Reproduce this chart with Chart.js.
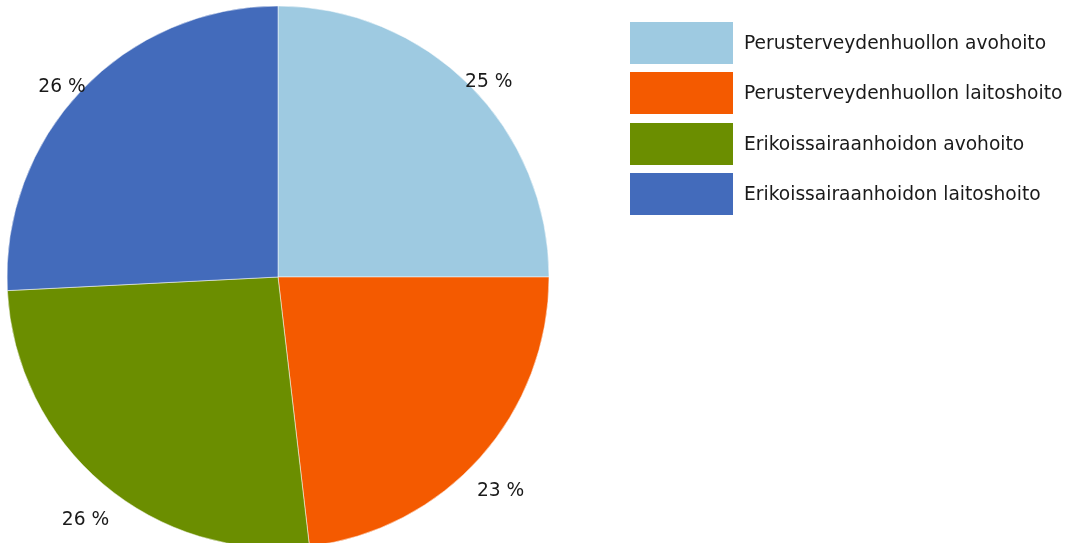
<!DOCTYPE html>
<html>
<head>
<meta charset="utf-8">
<script src="https://cdn.jsdelivr.net/npm/chart.js@4/dist/chart.umd.min.js"></script>
<style>
  html, body { margin: 0; padding: 0; background: #fff; overflow: hidden; width: 1076px; height: 543px; }
  #wrap { position: relative; width: 1076px; height: 548px; }
  canvas { position: absolute; left: 0; top: 0; }
  #legend { position: absolute; left: 630px; top: 22px; font-family: "DejaVu Sans", Verdana, sans-serif; font-size: 18.67px; color: #1a1a1a; }
  .item { position: absolute; left: 0; height: 42px; white-space: nowrap; }
  .box { position: absolute; left: 0; top: 0; width: 103px; height: 42px; }
  .lbl { position: absolute; left: 114px; top: 0; height: 42px; line-height: 42px; }
</style>
</head>
<body>
<div id="wrap">
  <canvas id="c" width="1076" height="548"></canvas>
  <div id="legend"></div>
</div>
<script>
const categories = [
  "Perusterveydenhuollon avohoito",
  "Perusterveydenhuollon laitoshoito",
  "Erikoissairaanhoidon avohoito",
  "Erikoissairaanhoidon laitoshoito"
];
const shares = [25.0, 23.15, 26.05, 25.8];
const shareLabels = ["25 %", "23 %", "26 %", "26 %"];
const colors = ["#9ECAE1", "#F45A00", "#6B8E00", "#436BBB"];

const legendEl = document.getElementById('legend');
categories.forEach((name, i) => {
  const it = document.createElement('div');
  it.className = 'item';
  it.style.top = Math.round(i * 50.34) + 'px';
  const b = document.createElement('div');
  b.className = 'box';
  b.style.background = colors[i];
  const t = document.createElement('div');
  t.className = 'lbl';
  t.textContent = name;
  it.appendChild(b); it.appendChild(t);
  legendEl.appendChild(it);
});

const pieLabels = {
  id: 'pieLabels',
  afterDatasetsDraw(chart) {
    const ctx = chart.ctx;
    const meta = chart.getDatasetMeta(0);
    ctx.save();
    ctx.font = '18.67px "DejaVu Sans", Verdana, sans-serif';
    ctx.fillStyle = '#1a1a1a';
    ctx.textAlign = 'center';
    ctx.textBaseline = 'middle';
    meta.data.forEach((arc, i) => {
      const p = arc.getProps(['x', 'y', 'startAngle', 'endAngle', 'outerRadius'], true);
      const mid = (p.startAngle + p.endAngle) / 2;
      const r = p.outerRadius + 27;
      const x = p.x + Math.cos(mid) * r;
      const y = p.y + Math.sin(mid) * r + 16;
      ctx.fillText(shareLabels[i], x, y);
    });
    ctx.restore();
  }
};

new Chart(document.getElementById('c'), {
  type: 'pie',
  data: {
    labels: categories,
    datasets: [{
      data: shares,
      backgroundColor: colors,
      borderColor: '#ffffff',
      borderWidth: 0.5,
      hoverOffset: 0,
      offset: 0
    }]
  },
  options: {
    responsive: false,
    animation: false,
    devicePixelRatio: 1,
    radius: 271,
    layout: { padding: { left: 7, right: 527, top: 6, bottom: 0 } },
    plugins: {
      legend: { display: false },
      tooltip: { enabled: false }
    },
    events: []
  },
  plugins: [pieLabels]
});
</script>
</body>
</html>
